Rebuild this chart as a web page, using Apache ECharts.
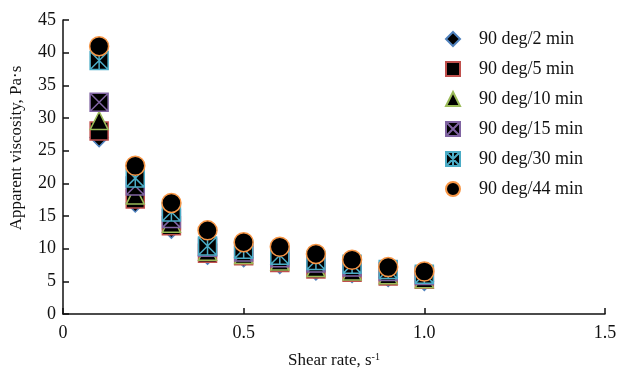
<!DOCTYPE html>
<html>
<head>
<meta charset="utf-8">
<script src="https://cdn.jsdelivr.net/npm/echarts@6/dist/echarts.min.js"></script>
<style>
  html, body { margin: 0; padding: 0; background: #fff; }
  #chart { width: 619px; height: 371px; }
</style>
</head>
<body>
<div id="chart"></div>
<script>
const shearRate = [0.1, 0.2, 0.3, 0.4, 0.5, 0.6, 0.7, 0.8, 0.9, 1.0];
const min2 = [27.0, 17.0, 13.0, 9.0, 8.6, 7.6, 6.6, 6.2, 5.6, 5.0];
const min5 = [28.0, 17.6, 13.5, 9.3, 8.9, 7.9, 6.9, 6.4, 5.8, 5.3];
const min10 = [29.6, 18.2, 13.9, 9.6, 9.1, 8.1, 7.1, 6.6, 6.0, 5.4];
const min15 = [32.4, 19.6, 14.6, 10.2, 9.5, 8.6, 7.8, 7.2, 6.5, 5.9];
const min30 = [38.8, 20.8, 15.6, 10.4, 9.9, 9.0, 8.2, 7.6, 6.8, 6.1];
const min44 = [41.0, 22.7, 17.0, 12.8, 11.0, 10.3, 9.2, 8.3, 7.2, 6.5];
const seriesNames = ["90 deg/2 min", "90 deg/5 min", "90 deg/10 min", "90 deg/15 min", "90 deg/30 min", "90 deg/44 min"];

const FONT = "'Liberation Serif', 'DejaVu Serif', serif";
const X_BOX = "path://M0,0H10V10H0Z M0,0L10,10 M10,0L0,10";
const STAR_BOX = "path://M0,0H10V10H0Z M0,0L10,10 M10,0L0,10 M5,0L5,10";

const styles = [
  { symbol: "diamond", border: "#4f81bd", size: 18 },
  { symbol: "rect", border: "#c0504d", size: 18 },
  { symbol: "triangle", border: "#9bbb59", size: 18 },
  { symbol: X_BOX, border: "#8064a2", size: 18 },
  { symbol: STAR_BOX, border: "#4bacc6", size: 18 },
  { symbol: "circle", border: "#f79646", size: 19 },
];
const values = [min2, min5, min10, min15, min30, min44];

const chart = echarts.init(document.getElementById("chart"));
chart.setOption({
  animation: false,
  backgroundColor: "#fff",
  textStyle: { fontFamily: FONT },
  grid: { left: 63, right: 14, top: 20, bottom: 57, outerBoundsMode: "none", containLabel: false },
  legend: {
    orient: "vertical",
    left: 440,
    top: 25,
    itemGap: 12,
    itemWidth: 14,
    itemHeight: 14,
    textStyle: { fontFamily: FONT, fontSize: 18, color: "#111", padding: [0, 0, 0, 14] },
    data: seriesNames,
  },
  xAxis: {
    type: "value",
    min: 0,
    max: 1.5,
    interval: 0.5,
    name: "Shear rate, s{sup|-1}",
    nameLocation: "middle",
    nameGap: 38,
    nameTextStyle: {
      fontFamily: FONT, fontSize: 17, color: "#111",
      rich: { sup: { fontFamily: FONT, fontSize: 10, verticalAlign: "top", padding: [0, 0, 8, 0], color: "#111" } },
    },
    axisLine: { lineStyle: { color: "#111", width: 1.5 } },
    axisTick: { inside: true, length: 6, lineStyle: { color: "#111", width: 1.5 } },
    axisLabel: {
      fontFamily: FONT, fontSize: 18, color: "#111", margin: 10,
      formatter: (v) => (v === 0 ? "0" : v.toFixed(1)),
    },
    splitLine: { show: false },
  },
  yAxis: {
    type: "value",
    min: 0,
    max: 45,
    interval: 5,
    name: "Apparent viscosity, Pa·s",
    nameLocation: "middle",
    nameGap: 38,
    nameTextStyle: { fontFamily: FONT, fontSize: 17, color: "#111", padding: [0, 0, 0, 38] },
    axisLine: { show: true, lineStyle: { color: "#111", width: 1.5 } },
    axisTick: { show: true, inside: true, length: 6, lineStyle: { color: "#111", width: 1.5 } },
    axisLabel: { fontFamily: FONT, fontSize: 18, color: "#111", margin: 7 },
    splitLine: { show: false },
  },
  series: seriesNames.map((name, i) => ({
    name,
    type: "scatter",
    symbol: styles[i].symbol,
    symbolSize: styles[i].size,
    data: shearRate.map((x, j) => [x, values[i][j]]),
    itemStyle: { color: "#000", borderColor: styles[i].border, borderWidth: 1.5, opacity: 1 },
  })),
});
</script>
</body>
</html>
